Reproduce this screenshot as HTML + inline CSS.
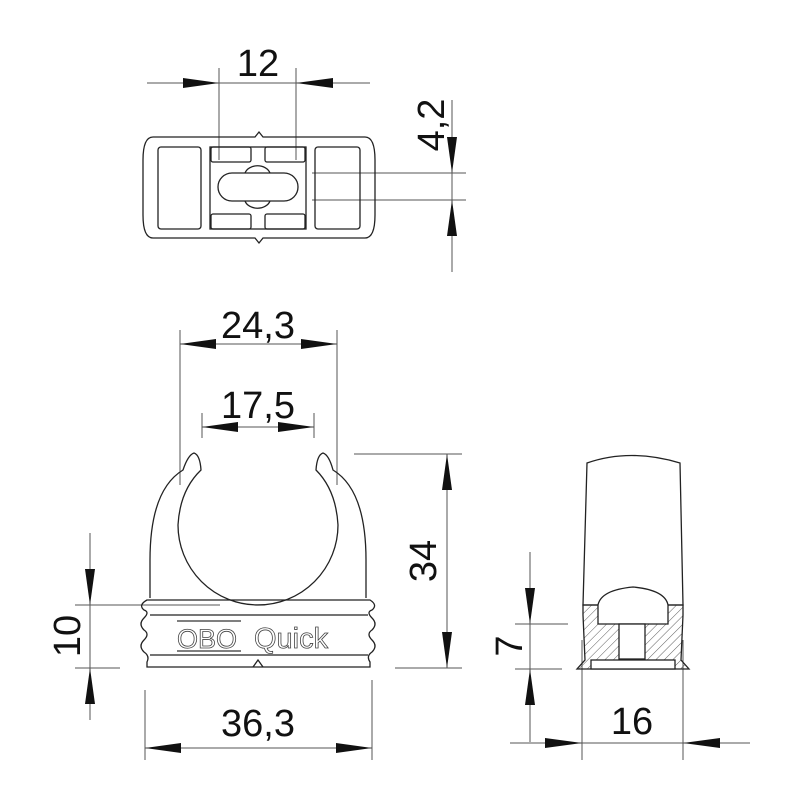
<!DOCTYPE html>
<html><head><meta charset="utf-8"><style>body{margin:0;background:#fff}svg{display:block}text{font-family:"Liberation Sans",sans-serif;fill:#111}</style></head><body>
<svg width="800" height="800" viewBox="0 0 800 800" xmlns="http://www.w3.org/2000/svg">
<defs>
<pattern id="h" width="6" height="6" patternUnits="userSpaceOnUse" patternTransform="rotate(45)"><line x1="0" y1="0" x2="0" y2="6" stroke="#333" stroke-width="0.8"/></pattern>
</defs>
<g stroke="#555" stroke-width="1" fill="none">
<line x1="147" y1="83" x2="370" y2="83"/>
<line x1="219" y1="68" x2="219" y2="160"/><line x1="296" y1="68" x2="296" y2="160"/>
<line x1="452" y1="100" x2="452" y2="272"/>
<line x1="312" y1="173" x2="466" y2="173"/><line x1="312" y1="200" x2="466" y2="200"/>
<line x1="180" y1="330" x2="180" y2="485"/><line x1="337" y1="330" x2="337" y2="485"/>
<line x1="180" y1="344" x2="337" y2="344"/>
<line x1="202" y1="413" x2="202" y2="438"/><line x1="314" y1="413" x2="314" y2="438"/>
<line x1="202" y1="427" x2="314" y2="427"/>
<line x1="447" y1="454" x2="447" y2="668"/>
<line x1="354" y1="454" x2="462" y2="454"/><line x1="395" y1="668" x2="462" y2="668"/>
<line x1="90" y1="533" x2="90" y2="720"/>
<line x1="75" y1="605" x2="220" y2="605"/><line x1="75" y1="668" x2="120" y2="668"/>
<line x1="145" y1="690" x2="145" y2="760"/><line x1="372" y1="680" x2="372" y2="760"/>
<line x1="145" y1="748" x2="372" y2="748"/>
<line x1="530" y1="552" x2="530" y2="742"/>
<line x1="515" y1="624" x2="568" y2="624"/><line x1="515" y1="669" x2="562" y2="669"/>
<line x1="582" y1="640" x2="582" y2="760"/><line x1="683" y1="640" x2="683" y2="760"/>
<line x1="510" y1="743" x2="750" y2="743"/>
</g>
<g fill="#111">
<polygon points="219,83 183,78 183,88"/><polygon points="296,83 333,78 333,88"/>
<polygon points="452,173 447,137 457,137"/><polygon points="452,200 447,236 457,236"/>
<polygon points="180,344 216,339 216,349"/><polygon points="337,344 301,339 301,349"/>
<polygon points="202,427 238,422 238,432"/><polygon points="314,427 278,422 278,432"/>
<polygon points="447,454 442,490 452,490"/><polygon points="447,668 442,632 452,632"/>
<polygon points="90,605 85,569 95,569"/><polygon points="90,668 85,704 95,704"/>
<polygon points="145,748 181,743 181,753"/><polygon points="372,748 336,743 336,753"/>
<polygon points="530,624 525,588 535,588"/><polygon points="530,669 525,705 535,705"/>
<polygon points="582,743 545,738 545,748"/><polygon points="683,743 720,738 720,748"/>
</g>
<g font-size="38" text-anchor="middle">
<text x="258" y="76">12</text>
<text x="258" y="338">24,3</text>
<text x="258" y="418">17,5</text>
<text x="258" y="736">36,3</text>
<text x="632" y="734">16</text>
<text transform="translate(444,125) rotate(-90)">4,2</text>
<text transform="translate(436,561) rotate(-90)">34</text>
<text transform="translate(80,636) rotate(-90)">10</text>
<text transform="translate(522,646) rotate(-90)">7</text>
</g>
<g stroke="#222" stroke-width="1.3" fill="none">
<path d="M153,137 H255 L259,132 L263,137 H365 Q375,137 375,160 V215 Q375,238 365,238 H263 L259,243 L255,238 H153 Q143,238 143,215 V160 Q143,137 153,137 Z"/>
<rect x="158" y="147" width="43" height="82" rx="3"/>
<rect x="315" y="147" width="45" height="82" rx="3"/>
<rect x="210" y="147" width="96" height="82"/>
<rect x="211" y="147" width="40" height="15" rx="2"/><rect x="265" y="147" width="40" height="15" rx="2"/>
<rect x="211" y="214" width="40" height="15" rx="2"/><rect x="265" y="214" width="40" height="15" rx="2"/>
<rect x="218" y="173" width="80" height="28" rx="14"/>
<path d="M245,173 A13,10 0 0 1 270,173 M245,201 A13,10 0 0 0 270,201"/>
</g>
<g stroke="#222" stroke-width="1.3" fill="none">
<path d="M150,598 L150,560 Q150,490 183,470 Q188,455 194,453 Q200,455 201,470 Q180,490 178,525 A80,80 0 0 0 338,525 Q336,490 316,470 Q317,455 323,453 Q329,455 333,470 Q366,490 366,560 L366,598"/>
<path d="M147,600 H370 Q378,605 372,610 Q366,612 372,618 Q378,624 372,630 Q366,634 372,640 Q378,646 372,652 Q366,656 370,662 V667 H147 V662 Q150,656 144,652 Q138,646 144,640 Q150,634 144,630 Q138,624 144,618 Q150,612 144,610 Q138,605 147,600 Z"/>
<line x1="150" y1="615" x2="368" y2="615"/><line x1="150" y1="655" x2="368" y2="655"/>
<path d="M253,667 L258,660 L263,667"/>
</g>
<text x="177" y="648" font-size="27" stroke="#444" stroke-width="0.8" style="fill:none">OBO</text>
<line x1="177" y1="621" x2="241" y2="621" stroke="#555" stroke-width="1.5"/>
<line x1="177" y1="651" x2="241" y2="651" stroke="#555" stroke-width="1.5"/>
<text x="254" y="648" font-size="29" style="fill:none" stroke="#444" stroke-width="0.8">Quick</text>
<g stroke="#222" stroke-width="1.3" fill="none">
<path d="M587,463 Q630,448 680,463 L683,605 L583,605 Z" fill="#fff"/>
<path d="M583,605 H683 V615 L681,660 L689,669 H577 L585,660 L583,615 Z" fill="url(#h)"/>
<path d="M598,605 Q601,590 633,587 Q665,590 668,605 V624 H598 Z" fill="#fff"/>
<rect x="619" y="624" width="26" height="35" fill="#fff"/>
<rect x="591" y="660" width="84" height="9" fill="#fff"/>
</g>
</svg>
</body></html>
